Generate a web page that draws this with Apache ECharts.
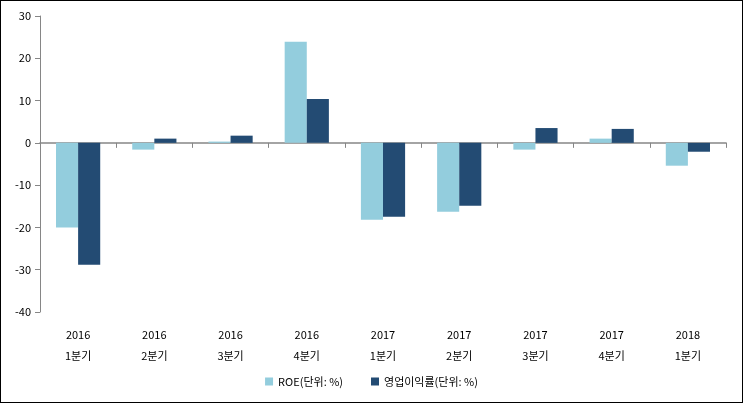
<!DOCTYPE html>
<html><head><meta charset="utf-8">
<script src="https://cdn.jsdelivr.net/npm/echarts@6/dist/echarts.min.js"></script>
<style>html,body{margin:0;padding:0;background:#fff}#c{width:743px;height:403px;box-sizing:border-box;border:1px solid #000}</style>
</head><body><div id="c"></div>
<script>
const categories = ['2016\n1분기','2016\n2분기','2016\n3분기','2016\n4분기','2017\n1분기','2017\n2분기','2017\n3분기','2017\n4분기','2018\n1분기'];
const roe = [-20.0, -1.6, 0.3, 23.9, -18.2, -16.3, -1.6, 1.0, -5.4];
const opMargin = [-28.8, 1.0, 1.7, 10.4, -17.5, -14.9, 3.5, 3.3, -2.1];
const seriesNames = ['ROE(단위: %)', '영업이익률(단위: %)'];
const font = '"Noto Sans CJK KR", "Noto Sans", sans-serif';
const chart = echarts.init(document.getElementById('c'), null, {renderer:'canvas'});
chart.setOption({
  animation:false,
  textStyle:{fontFamily:font},
  grid:{left:39, right:16, top:15, bottom:90},
  legend:{bottom:10, left:'center', itemWidth:8, itemHeight:8, itemGap:28, icon:'rect',
    textStyle:{fontSize:11, color:'#000', fontFamily:font}, data:seriesNames},
  xAxis:[
    {type:'category', data:categories, position:'bottom', axisLine:{show:false, onZero:false}, axisTick:{show:false},
     axisLabel:{fontSize:11, color:'#000', lineHeight:21, margin:12, fontFamily:font}},
    {type:'category', data:categories, gridIndex:0, position:'bottom',
     axisLine:{show:true, onZero:true, onZeroAxisIndex:0, lineStyle:{color:'#868686', width:1.5}},
     axisTick:{show:true, length:5, lineStyle:{color:'#868686'}}, axisLabel:{show:false}}
  ],
  yAxis:{type:'value', min:-40, max:30, interval:10, splitLine:{show:false},
    axisLine:{show:true, lineStyle:{color:'#868686'}}, axisTick:{show:true, length:5, lineStyle:{color:'#868686'}},
    axisLabel:{fontSize:11, color:'#000', margin:9, fontFamily:font}},
  series:[
    {name:seriesNames[0], type:'bar', data:roe, itemStyle:{color:'#93CDDD'}, barGap:'0%', barCategoryGap:'42%'},
    {name:seriesNames[1], type:'bar', data:opMargin, itemStyle:{color:'#234B73'}, barGap:'0%', barCategoryGap:'42%'}
  ]
});
</script></body></html>
